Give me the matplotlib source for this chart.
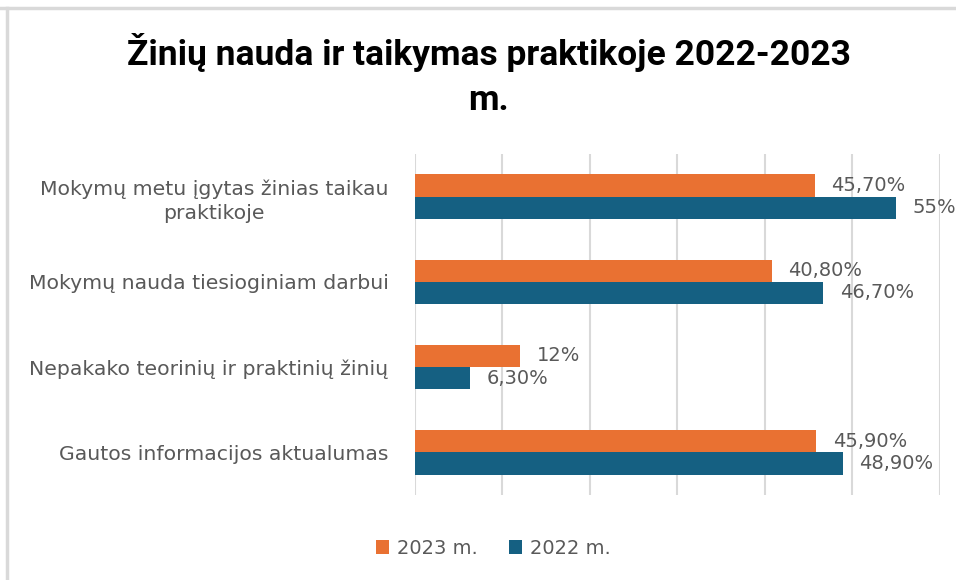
import numpy as np
import matplotlib.pyplot as plt

# data (percent)
categories = ["Mokymų metu įgytas žinias taikau\npraktikoje",
              "Mokymų nauda tiesioginiam darbui",
              "Nepakako teorinių ir praktinių žinių",
              "Gautos informacijos aktualumas"]
vals_2023 = [45.7, 40.8, 12.0, 45.9]
vals_2022 = [55.0, 46.7, 6.3, 48.9]
labels_2023 = ["45,70%", "40,80%", "12%", "45,90%"]
labels_2022 = ["55%", "46,70%", "6,30%", "48,90%"]

c23 = "#E97132"
c22 = "#156082"
grey = "#595959"

plt.rcParams['font.family'] = ['DejaVu Sans']

fig = plt.figure(figsize=(9.56, 5.8), dpi=100)
ax = fig.add_axes([0.434, 0.1466, 0.549, 0.588])

y = np.arange(len(categories))
h = 0.26
ax.barh(y - h / 2, vals_2023, height=h, color=c23, label="2023 m.", zorder=3)
ax.barh(y + h / 2, vals_2022, height=h, color=c22, label="2022 m.", zorder=3)

for yi, v, s in zip(y, vals_2023, labels_2023):
    ax.text(v + 1.9, yi - h / 2, s, va='center', ha='left', fontsize=14, color=grey)
for yi, v, s in zip(y, vals_2022, labels_2022):
    ax.text(v + 1.9, yi + h / 2, s, va='center', ha='left', fontsize=14, color=grey)

ax.set_xlim(0, 60)
ax.set_ylim(len(categories) - 0.5, -0.5)
ax.set_xticks(np.arange(0, 61, 10))
ax.set_xticklabels([])
ax.tick_params(axis='x', length=0)
ax.set_yticks(y)
ax.set_yticklabels(categories, fontsize=14.7, color=grey, multialignment='center',
                   linespacing=1.35)
ax.tick_params(axis='y', length=0, pad=19)
ax.grid(axis='x', color='#D9D9D9', linewidth=1.5, zorder=0)
for sp in ax.spines.values():
    sp.set_visible(False)

fig.text(0.511, 0.91, "Žinių nauda ir taikymas praktikoje 2022-2023", ha='center',
         va='center', fontsize=25.5, fontweight='bold', family=['Roboto', 'DejaVu Sans'])
fig.text(0.511, 0.827, "m.", ha='center', va='center', fontsize=25.5,
         fontweight='bold', family=['Roboto', 'DejaVu Sans'])

leg = fig.legend(loc='center', bbox_to_anchor=(0.516, 0.055), ncol=2, frameon=False,
                 fontsize=14, handlelength=0.7, handleheight=0.7, columnspacing=1.6,
                 handletextpad=0.4)
for t in leg.get_texts():
    t.set_color(grey)

# partial frame of the original screenshot
fig.add_artist(plt.Line2D([0.0, 1.0], [0.986, 0.986], color='#D9D9D9', lw=2.5,
                          transform=fig.transFigure))
fig.add_artist(plt.Line2D([0.0075, 0.0075], [0.0, 0.986], color='#D9D9D9', lw=2.5,
                          transform=fig.transFigure))

fig.savefig("out.png", dpi=100)
